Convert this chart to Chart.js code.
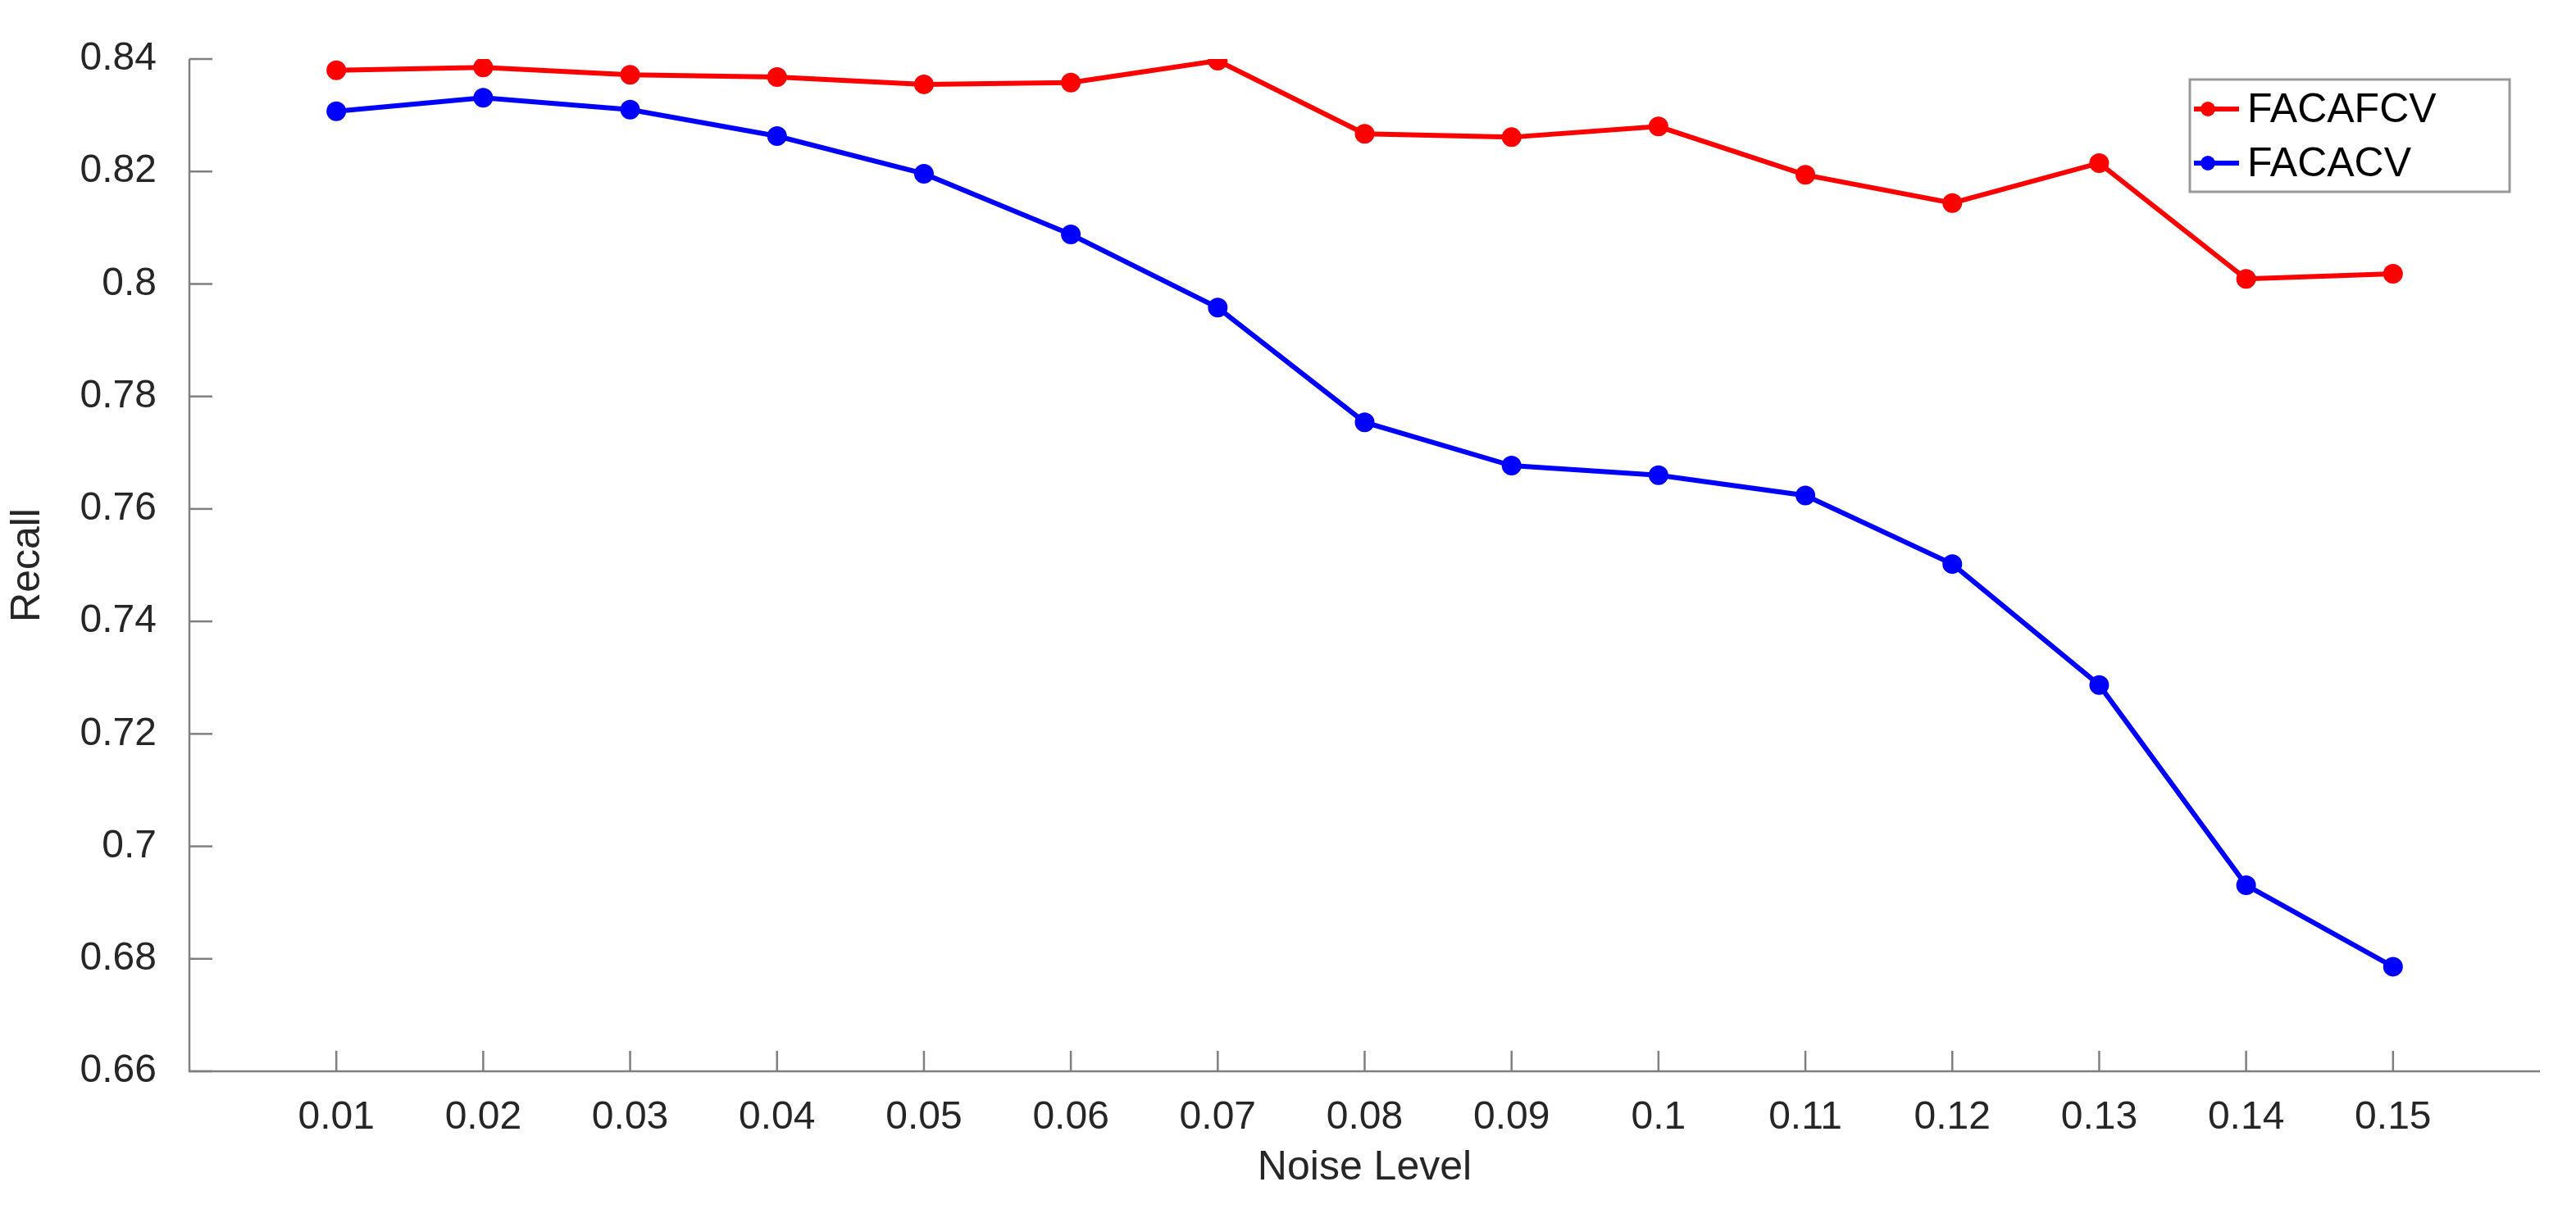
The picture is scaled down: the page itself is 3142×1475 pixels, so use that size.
<!DOCTYPE html>
<html><head><meta charset="utf-8">
<script src="https://cdn.jsdelivr.net/npm/chart.js@4"></script>
<style>html,body{margin:0;padding:0;background:#fff}#w{width:3142px;height:1475px}</style>
</head><body><div id="w"><canvas id="c"></canvas></div>
<script>
const noiseLevels=[0.01,0.02,0.03,0.04,0.05,0.06,0.07,0.08,0.09,0.10,0.11,0.12,0.13,0.14,0.15];
const facafcv=[0.8380,0.8385,0.8372,0.8368,0.8355,0.8358,0.8397,0.8267,0.8261,0.8280,0.8194,0.8144,0.8215,0.8009,0.8018];
const facacv=[0.8307,0.8331,0.8310,0.8263,0.8196,0.8088,0.7958,0.7754,0.7677,0.7660,0.7624,0.7502,0.7287,0.6931,0.6786];
const yTicks=[0.66,0.68,0.70,0.72,0.74,0.76,0.78,0.80,0.82,0.84];
const seriesNames=['FACAFCV','FACACV'];
const FONT='Arial, "Liberation Sans", sans-serif';
const AX='#7f7f7f';
function pts(v){return noiseLevels.map((x,i)=>({x:x,y:v[i]}));}
const inward={id:'inward',afterDraw(ch){
  const c=ch.ctx,a=ch.chartArea,xs=ch.scales.x,ys=ch.scales.y;
  c.save();c.strokeStyle=AX;c.lineWidth=2.5;
  c.beginPath();c.moveTo(a.left,ys.getPixelForValue(0.84));c.lineTo(a.left,a.bottom);c.lineTo(a.right,a.bottom);c.stroke();
  noiseLevels.forEach(v=>{const p=xs.getPixelForValue(v);c.beginPath();c.moveTo(p,a.bottom);c.lineTo(p,a.bottom-25);c.stroke();});
  yTicks.forEach(v=>{const p=ys.getPixelForValue(v);c.beginPath();c.moveTo(a.left,p);c.lineTo(a.left+28,p);c.stroke();});
  // legend
  const L=2671,T=97,R=3061,B=234;
  c.fillStyle='#fff';c.fillRect(L,T,R-L,B-T);c.strokeStyle='#999';c.lineWidth=3;c.strokeRect(L,T,R-L,B-T);
  c.font='50px '+FONT;c.textBaseline='middle';
  ch.data.datasets.forEach((d,i)=>{const y=T+36+i*66;
    c.strokeStyle=d.borderColor;c.lineWidth=6;c.beginPath();c.moveTo(L+5,y);c.lineTo(L+60,y);c.stroke();
    c.fillStyle=d.borderColor;c.beginPath();c.arc(L+22,y,9,0,Math.PI*2);c.fill();
    c.fillStyle='#000';c.fillText(d.label,L+70,y+2);});
  c.restore();}};
new Chart(document.getElementById('c'),{type:'line',
 data:{datasets:[
  {label:seriesNames[0],data:pts(facafcv),borderColor:'#ff0000',backgroundColor:'#ff0000',borderWidth:6,pointRadius:9,pointHoverRadius:9},
  {label:seriesNames[1],data:pts(facacv),borderColor:'#0000ff',backgroundColor:'#0000ff',borderWidth:6,pointRadius:9,pointHoverRadius:9}]},
 options:{responsive:true,maintainAspectRatio:false,animation:false,
  layout:{padding:{top:72,right:44,bottom:0,left:0}},
  plugins:{legend:{display:false},tooltip:{enabled:false}},
  scales:{
   x:{type:'linear',min:0,max:0.16,border:{display:false},grid:{display:false,drawTicks:false},
      afterBuildTicks(s){s.ticks=noiseLevels.map(v=>({value:v}));},
      ticks:{padding:28,color:'#262626',font:{size:48,family:FONT},maxRotation:0,autoSkip:false,callback:v=>String(Number(v.toFixed(2)))},
      title:{display:true,text:'Noise Level',color:'#262626',font:{size:50,family:FONT},padding:{top:8,bottom:20}},
      afterFit(s){s.height=168;}},
   y:{min:0.66,max:0.84,border:{display:false},grid:{display:false,drawTicks:false},
      afterBuildTicks(s){s.ticks=yTicks.map(v=>({value:v}));},
      ticks:{padding:40,color:'#262626',font:{size:48,family:FONT},callback:v=>String(Number(v.toFixed(2)))},
      title:{display:true,text:'Recall',color:'#262626',font:{size:50,family:FONT},padding:{bottom:10}},
      afterFit(s){s.width=231;}}}},
 plugins:[inward]});
</script></body></html>
